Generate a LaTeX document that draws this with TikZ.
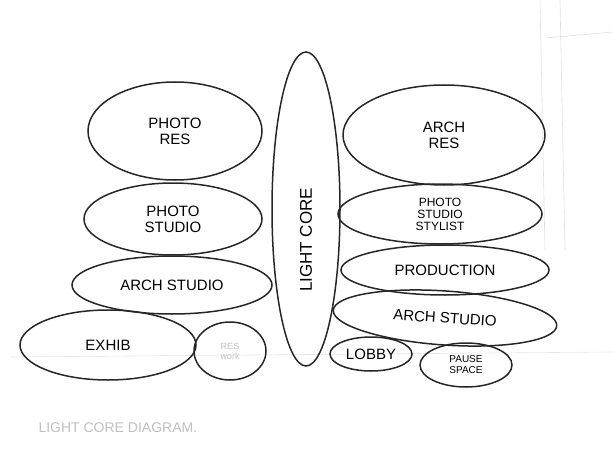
\documentclass[tikz,border=0pt]{standalone}
\usepackage{fontspec}
\setmainfont{Liberation Sans}
\usepackage{tikz}
\usetikzlibrary{shapes.geometric}

\tikzset{
    bubble/.style={draw=black!85, line width=1.5pt, ellipse, inner sep=0pt,
        align=center, font=\fontsize{15}{16}\selectfont},
    faint/.style={text=black!25, align=center, font=\fontsize{11}{12}\selectfont}
}

\begin{document}
\begin{tikzpicture}[x=1pt, y=-1pt]
    \useasboundingbox (0, 0) rectangle (613, 452);

    % pencil guide lines
    \draw[black!12, line width=0.6pt] (540, 0) -- (545, 250);
    \draw[black!12, line width=0.6pt] (560, 0) -- (565, 250);
    \draw[black!12, line width=0.6pt] (545, 38) -- (613, 32);
    \draw[black!10, line width=0.6pt] (10, 357) -- (613, 352);

    % left side
    \node[bubble, minimum width=174, minimum height=98] at (175, 131) (photores) {PHOTO\\RES};
    \node[bubble, minimum width=178, minimum height=72] at (173, 219) (photostudio) {PHOTO\\STUDIO};
    \node[bubble, minimum width=200, minimum height=58] at (172, 285) (archstudioL) {ARCH STUDIO};
    \node[bubble, minimum width=176, minimum height=70] at (108, 345) (exhib) {EXHIB};
    \node[bubble, minimum width=72, minimum height=58] at (230, 351) (res) {};
    \node[faint, font=\fontsize{9}{10}\selectfont] at (res) (reslabel) {RES\\work};

    % core
    \node[bubble, minimum width=68, minimum height=314] at (306, 209) (core) {};
    \node[bubble, draw=none, rotate=90, font=\fontsize{17}{18}\selectfont] at (306, 240) (corelabel) {LIGHT CORE};

    % right side
    \node[bubble, minimum width=202, minimum height=100] at (444, 135) (archres) {ARCH\\RES};
    \node[bubble, minimum width=204, minimum height=60, font=\fontsize{12}{12}\selectfont] at (440, 214) (stylist) {PHOTO\\STUDIO\\STYLIST};
    \node[bubble, minimum width=208, minimum height=50] at (445, 270) (production) {PRODUCTION};
    \node[bubble, minimum width=224, minimum height=54, rotate=-4] at (445, 318) (archstudioR) {ARCH STUDIO};
    \node[bubble, minimum width=82, minimum height=34] at (371, 354) (lobby) {LOBBY};
    \node[bubble, minimum width=92, minimum height=44, font=\fontsize{10}{11}\selectfont] at (466, 365) (pause) {PAUSE\\SPACE};

    % caption
    \node[faint, font=\fontsize{14}{15}\selectfont, anchor=west] at (35, 428) (caption) {LIGHT CORE DIAGRAM.};
\end{tikzpicture}
\end{document}
